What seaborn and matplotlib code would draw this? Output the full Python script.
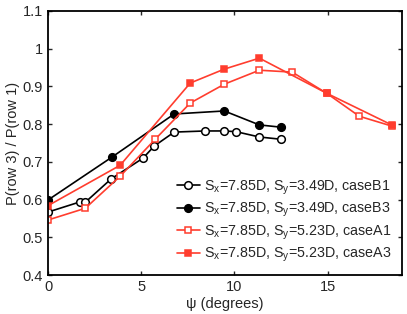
import matplotlib
matplotlib.use("Agg")
import matplotlib.pyplot as plt
import seaborn as sns
import pandas as pd

# data
psi_b1 = [0, 1.72, 2.0, 3.39, 5.1, 5.7, 6.77, 8.44, 9.46, 10.1, 11.34, 12.5]
ratio_b1 = [0.567, 0.594, 0.593, 0.655, 0.71, 0.742, 0.779, 0.782, 0.782, 0.78, 0.766, 0.76]

psi_b3 = [0, 3.44, 6.77, 9.46, 11.34, 12.5]
ratio_b3 = [0.599, 0.713, 0.827, 0.835, 0.798, 0.792]

psi_a1 = [0, 2.0, 3.87, 5.75, 7.63, 9.46, 11.34, 13.1, 14.95, 16.7, 18.44]
ratio_a1 = [0.546, 0.577, 0.662, 0.76, 0.856, 0.906, 0.943, 0.938, 0.882, 0.821, 0.795]

psi_a3 = [0, 3.87, 7.63, 9.46, 11.34, 14.95, 18.44]
ratio_a3 = [0.584, 0.691, 0.909, 0.946, 0.975, 0.882, 0.798]

labels = [r"S$_x$=7.85D, S$_y$=3.49D, caseB1",
          r"S$_x$=7.85D, S$_y$=3.49D, caseB3",
          r"S$_x$=7.85D, S$_y$=5.23D, caseA1",
          r"S$_x$=7.85D, S$_y$=5.23D, caseA3"]

red = "#ff3d2e"

sns.set_style("ticks")
plt.rcParams["font.family"] = ["Liberation Sans", "DejaVu Sans"]
plt.rcParams["mathtext.default"] = "regular"

fig = plt.figure(figsize=(4.07, 3.14), dpi=100)
ax = fig.add_axes([0.118, 0.124, 0.870, 0.841])

series = [
    (psi_b1, ratio_b1, "o", "black", "white"),
    (psi_b3, ratio_b3, "o", "black", "black"),
    (psi_a1, ratio_a1, "s", red, "white"),
    (psi_a3, ratio_a3, "s", red, red),
]
for (x, y, m, c, fc), lab in zip(series, labels):
    df = pd.DataFrame({"psi": x, "ratio": y})
    sns.lineplot(data=df, x="psi", y="ratio", ax=ax, color=c, marker=m,
                 markersize=5.5 if m == "o" else 5, markerfacecolor=fc,
                 markeredgecolor=c, markeredgewidth=1.1, linewidth=1.2,
                 label=lab, sort=False, estimator=None)

ax.set_xlim(0, 19)
ax.set_ylim(0.4, 1.1)
ax.set_xticks([0, 5, 10, 15])
ax.set_yticks([0.4, 0.5, 0.6, 0.7, 0.8, 0.9, 1.0, 1.1])
ax.set_yticklabels(["0.4", "0.5", "0.6", "0.7", "0.8", "0.9", "1", "1.1"])
ax.tick_params(direction="in", top=True, right=True, labelsize=10.5, length=3, width=1)
for s in ax.spines.values():
    s.set_linewidth(1.3)
    s.set_color("black")

ax.set_xlabel("ψ (degrees)", fontsize=10.5, labelpad=2)
ax.set_ylabel("P(row 3) / P(row 1)", fontsize=10.5, labelpad=2)

ax.legend(loc="lower right", frameon=False, fontsize=10.3, handlelength=1.6,
          handletextpad=0.3, labelspacing=0.3, borderaxespad=0.35)

fig.savefig("out.png", dpi=100)
